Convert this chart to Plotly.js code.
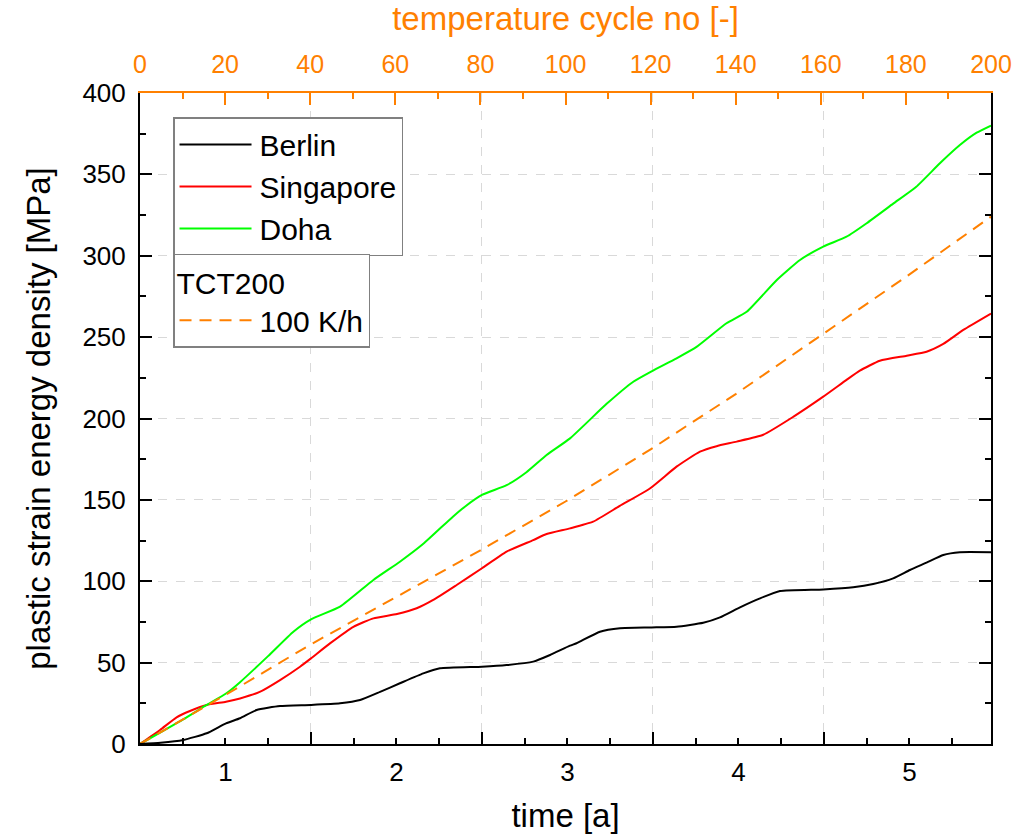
<!DOCTYPE html>
<html><head><meta charset="utf-8">
<script src="https://cdn.plot.ly/plotly-3.0.1.min.js"></script>
<style>html,body{margin:0;padding:0;background:#fff}#chart{width:1017px;height:836px}</style>
</head><body><div id="chart"></div><script>
// time [a]
const berlinT = [0.5,0.62,0.753,0.89,1.003,1.085,1.182,1.319,1.5,1.67,1.787,1.904,2.02,2.157,2.254,2.5,2.644,2.8,2.898,3.015,3.053,3.19,3.307,3.492,3.638,3.794,3.892,4.009,4.126,4.243,4.496,4.671,4.788,4.905,5.003,5.1,5.198,5.295,5.477];
const berlinV = [0,0.8,2.5,6.6,12.7,15.8,20.9,23.3,24,25,27,32,37.3,43.4,46.5,47.5,48.5,50.6,54.7,60.4,61.9,69,71.1,71.6,72.1,74.5,77.8,84,89.5,94,95,96.3,98.3,101.8,106.9,111.4,116.1,117.8,117.8];
const singaporeT = [0.5,0.617,0.714,0.792,0.89,1.003,1.085,1.2,1.319,1.436,1.5,1.611,1.748,1.865,2.003,2.118,2.215,2.352,2.5,2.644,2.8,2.878,3.015,3.15,3.306,3.482,3.638,3.775,3.872,3.99,4.145,4.32,4.496,4.632,4.71,4.827,4.984,5.1,5.198,5.315,5.477];
const singaporeV = [0,8.6,16.4,20.3,24,26,28,32,39.3,47.5,52.6,61.8,72,77.2,79.9,83.4,88.5,97.7,108,118.2,125.3,129,132.5,136.6,146.3,157,170.4,179.6,183,185.8,190,201,213.4,223.7,229.4,235.5,238.6,241,245.8,254.4,264.5];
const dohaT = [0.5,0.75,0.89,1.003,1.085,1.249,1.397,1.5,1.67,1.865,2.02,2.157,2.33,2.4,2.5,2.644,2.76,2.878,3.015,3.229,3.385,3.492,3.638,3.755,3.93,4.048,4.223,4.36,4.496,4.632,4.75,4.905,5.04,5.178,5.295,5.393,5.477];
const dohaV = [0,15,24,31,38,54,69,76.6,84.4,100.8,112,123,139.7,145.8,153,159,167,177.6,187.8,209,222.6,229,237,244,258.5,265.6,285,297.4,305.6,311.7,320,332,342.4,356.8,368,375.6,380];
// temperature cycle no [-]
const cycleNo = [0,20,40,60,80,100,120,140,160,180,200];
const tct200V = [0,30,61,90,119,149,181,215,251,287,324];
const timeTickVals = [1,2,3,4,5];
const timeMajorVals = [1.5,2.5,3.5,4.5];

const FONT = 'Arial, "Liberation Sans", sans-serif';
const ORANGE = '#FF8000';
const GRID = '#d9d9d9';

const traces = [
  {x: berlinT, y: berlinV, name: 'Berlin', mode: 'lines', xaxis: 'x3', line: {color: '#000000', width: 2, shape: 'spline', smoothing: 0.5}, legend: 'legend', legendgroup: 'a'},
  {x: singaporeT, y: singaporeV, name: 'Singapore', mode: 'lines', line: {color: '#FF0000', width: 2, shape: 'spline', smoothing: 0.5}, legend: 'legend', legendgroup: 'b'},
  {x: dohaT, y: dohaV, name: 'Doha', mode: 'lines', line: {color: '#00FF00', width: 2, shape: 'spline', smoothing: 0.5}, legend: 'legend', legendgroup: 'c'},
  {x: cycleNo, y: tct200V, name: '100 K/h', mode: 'lines', xaxis: 'x2', line: {color: ORANGE, width: 2, dash: '12px,8px'}, legend: 'legend2'}
];

const xr = [0.5, 5.477];
const layout = {
  width: 1017, height: 836,
  margin: {l: 140, r: 26, t: 93, b: 92},
  paper_bgcolor: '#fff', plot_bgcolor: '#fff',
  font: {family: FONT, color: '#000'},
  showlegend: true,
  xaxis: {
    range: xr, tickmode: 'array', tickvals: timeMajorVals, showticklabels: false,
    ticks: 'inside', ticklen: 12, tickwidth: 2, tickcolor: '#000',
    showline: true, linecolor: '#000', linewidth: 2,
    showgrid: true, gridcolor: GRID, griddash: 'dash', gridwidth: 1, zeroline: false,
    minor: {tickmode: 'linear', tick0: 0.5, dtick: 0.25, ticks: 'inside', ticklen: 6, tickwidth: 2, tickcolor: '#000', showgrid: false}
  },
  xaxis3: {
    overlaying: 'x', anchor: 'y', side: 'bottom', range: xr,
    tickmode: 'array', tickvals: timeTickVals, ticks: '', showline: false, showgrid: false, zeroline: false,
    tickfont: {size: 26, color: '#000'}, ticklabelstandoff: 10,
    title: {text: 'time [a]', font: {size: 33, color: '#000'}, standoff: 17}
  },
  xaxis2: {
    overlaying: 'x', anchor: 'y', side: 'top', range: [0, 200],
    tickmode: 'linear', tick0: 0, dtick: 20,
    ticks: 'inside', ticklen: 12, tickwidth: 2, tickcolor: ORANGE,
    showline: true, linecolor: ORANGE, linewidth: 2, showgrid: false, zeroline: false,
    tickfont: {size: 25, color: ORANGE}, ticklabelstandoff: 8,
    minor: {tickmode: 'linear', tick0: 0, dtick: 10, ticks: 'inside', ticklen: 6, tickwidth: 2, tickcolor: ORANGE, showgrid: false},
    title: {text: 'temperature cycle no [-]', font: {size: 33, color: ORANGE}, standoff: 12}
  },
  yaxis: {
    range: [0, 400], tickmode: 'linear', tick0: 0, dtick: 50,
    ticks: 'inside', ticklen: 12, tickwidth: 2, tickcolor: '#000',
    showline: true, linecolor: '#000', linewidth: 2, mirror: 'ticks',
    showgrid: true, gridcolor: GRID, griddash: 'dash', gridwidth: 1, zeroline: false,
    tickfont: {size: 26, color: '#000'}, ticklabelstandoff: 7,
    minor: {tickmode: 'linear', tick0: 0, dtick: 25, ticks: 'inside', ticklen: 6, tickwidth: 2, tickcolor: '#000', showgrid: false},
    title: {text: 'plastic strain energy density [MPa]', font: {size: 33, color: '#000'}, standoff: 22}
  },
  legend: {
    x: 0.0388, y: 0.963, xanchor: 'left', yanchor: 'top',
    bgcolor: '#fff', bordercolor: '#808080', borderwidth: 1.5,
    font: {size: 30, color: '#000', family: FONT}, traceorder: 'grouped', tracegroupgap: 0,
    itemwidth: 75
  },
  legend2: {
    x: 0.0388, y: 0.753, xanchor: 'left', yanchor: 'top',
    bgcolor: '#fff', bordercolor: '#808080', borderwidth: 1.5,
    font: {size: 30, color: '#000', family: FONT}, itemwidth: 75,
    title: {text: 'TCT200', font: {size: 30, color: '#000', family: FONT}, side: 'top'}
  }
};

Plotly.newPlot('chart', traces, layout, {displayModeBar: false, staticPlot: true}).then(function (gd) {
  // lengthen the legend line samples to match the reference style
  gd.querySelectorAll('.legendlines path').forEach(function (p) { p.setAttribute('d', 'M5,0h72'); });
});
</script></body></html>
